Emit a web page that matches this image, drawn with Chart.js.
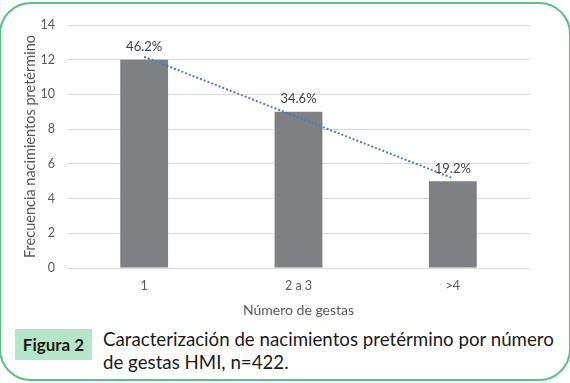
<!DOCTYPE html>
<html>
<head>
<meta charset="utf-8">
<script src="https://cdn.jsdelivr.net/npm/chart.js@4"></script>
<style>
  body { margin: 0; background: #fff; width: 570px; height: 383px; overflow: hidden; position: relative; font-family: Lato, sans-serif; }
  #frame { position: absolute; left: -1px; top: 2px; width: 568px; height: 375px; border: 2px solid #5cbf86; border-radius: 32px; }
  #wrap { position: absolute; left: 0; top: 0; width: 570px; height: 325px; }
  #tag { position: absolute; left: 15px; top: 329px; width: 77px; height: 31px; background: #b5e6c9; color: #1a1a1a; font-weight: bold; font-size: 17px; line-height: 31px; text-align: center; }
  #cap { position: absolute; left: 103px; top: 328px; white-space: nowrap; color: #1a1a1a; font-size: 18.7px; line-height: 23px; }
</style>
</head>
<body>
<div id="frame"></div>
<div id="wrap"><canvas id="grafico" width="570" height="325"></canvas></div>
<div id="tag">Figura 2</div>
<div id="cap">Caracterización de nacimientos pretérmino por número<br>de gestas HMI, n=422.</div>
<script>
const categorias = ['1', '2 a 3', '>4'];
const frecuencias = [12, 9, 5];
const porcentajes = ['46.2%', '34.6%', '19.2%'];
const tendencia = [12.17, 8.67, 5.17];
const ticksY = [0, 2, 4, 6, 8, 10, 12, 14];

// etiquetas encima de las barras
const etiquetas = {
  id: 'etiquetas',
  afterDatasetsDraw(chart) {
    const c = chart.ctx;
    const meta = chart.getDatasetMeta(0);
    c.save();
    c.fillStyle = '#404040';
    c.font = '13px Lato, sans-serif';
    c.textAlign = 'center';
    c.textBaseline = 'bottom';
    meta.data.forEach((bar, i) => {
      c.fillText(porcentajes[i], bar.x, bar.y - 6);
    });
    c.restore();
  }
};

new Chart(document.getElementById('grafico'), {
  type: 'bar',
  data: {
    labels: categorias,
    datasets: [{
      label: 'Frecuencia',
      data: frecuencias,
      backgroundColor: '#7f8084',
      barPercentage: 0.62,
      categoryPercentage: 0.5,
      order: 2
    }, {
      type: 'line',
      label: 'Tendencia',
      data: tendencia,
      borderColor: '#4a7ec4',
      borderWidth: 2,
      borderDash: [2, 2],
      pointRadius: 0,
      fill: false,
      order: 1
    }]
  },
  plugins: [etiquetas],
  options: {
    responsive: false,
    animation: false,
    layout: { padding: { left: 20, right: 40, top: 25, bottom: 0 } },
    plugins: {
      legend: { display: false },
      tooltip: { enabled: false }
    },
    scales: {
      x: {
        afterFit: s => { s.height = 57; },
        grid: { display: false },
        border: { display: false },
        ticks: { color: '#595959', font: { size: 12.5, family: 'Lato' }, padding: 2 },
        title: {
          display: true,
          text: 'Número de gestas',
          color: '#595959',
          font: { size: 14, family: 'Lato' },
          padding: { top: 10, bottom: 6 }
        }
      },
      y: {
        min: 0,
        max: 14,
        afterFit: s => { s.width = 47; },
        afterBuildTicks: s => { s.ticks = ticksY.map(v => ({ value: v })); },
        grid: { color: '#d9d9d9', drawTicks: false },
        border: { display: false },
        ticks: { color: '#595959', font: { size: 12.5, family: 'Lato' }, padding: 12 },
        title: {
          display: true,
          text: 'Frecuencia nacimientos pretérmino',
          color: '#595959',
          font: { size: 14.5, family: 'Lato' },
          padding: 2
        }
      }
    }
  }
});
</script>
</body>
</html>
